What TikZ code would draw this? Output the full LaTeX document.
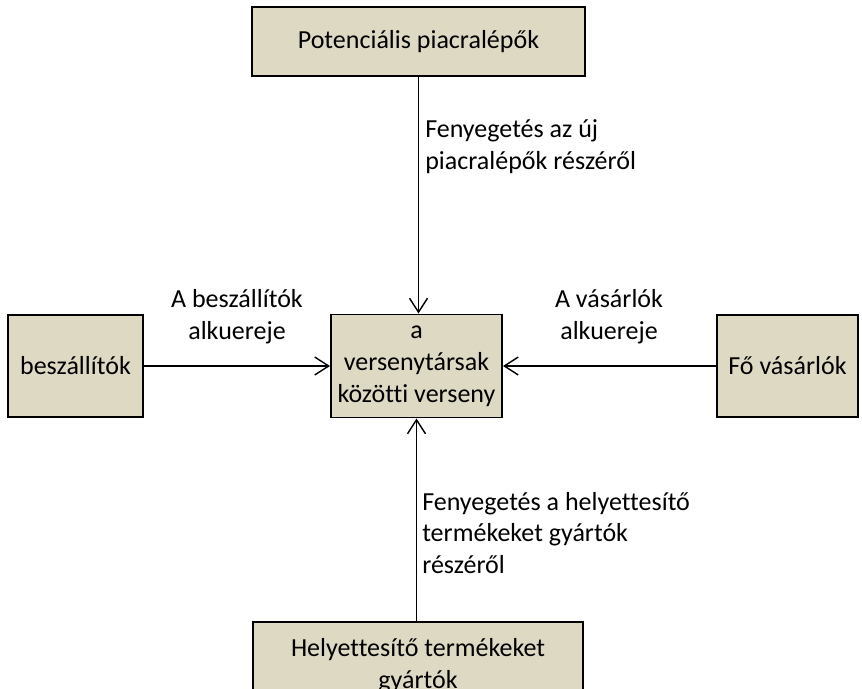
\documentclass[tikz,border=0pt]{standalone}
\usepackage{fontspec}
\setmainfont{Carlito}[Ligatures=NoCommon]
\usetikzlibrary{arrows.meta}
\definecolor{boxtan}{HTML}{DDD9C3}

\begin{document}
\begin{tikzpicture}[x=0.025cm,y=-0.025cm,
    font=\fontsize{18.5}{22.6}\selectfont,
    box/.style={draw, fill=boxtan, line width=1.4pt, align=center, inner sep=0pt},
    lbl/.style={inner sep=0pt},
    arr/.style={line width=1pt, -{Straight Barb[length=0.35cm,width=0.45cm,line width=1pt]}}]
  \clip (0,0) rectangle (862,689);

  \node [box, minimum width=8.325cm, minimum height=1.725cm] (entrants) at (418.5,41.5) {Potenciális piacralépők};
  \node [box, minimum width=4.275cm, minimum height=2.575cm] (rivalry) at (416.5,366) {a\\versenytársak\\közötti verseny};
  \node [box, minimum width=3.375cm, minimum height=2.55cm] (suppliers) at (75.5,366) {beszállítók};
  \node [box, minimum width=3.525cm, minimum height=2.55cm] (buyers) at (787.5,366) {Fő vásárlók};
  \node [box, minimum width=8.25cm, minimum height=2.2cm] (substitutes) at (418,666) {Helyettesítő termékeket\\gyártók};

  \draw [arr] (entrants.south) -- (entrants.south |- rivalry.north);
  \draw [arr] (suppliers.east) -- (suppliers.east -| rivalry.west);
  \draw [arr] (buyers.west) -- (buyers.west -| rivalry.east);
  \draw [arr] (substitutes.north -| rivalry.south) -- (rivalry.south);

  \node [lbl, anchor=west, align=left] (threatnew) at (425,146.5) {Fenyegetés az új\\piacralépők részéről};
  \node [lbl, align=center] (supplierpow) at (237,316.5) {A beszállítók\\alkuereje};
  \node [lbl, align=center] (buyerpow) at (609,316.5) {A vásárlók\\alkuereje};
  \node [lbl, anchor=west, align=left] (threatsub) at (422,533) {Fenyegetés a helyettesítő\\termékeket gyártók\\részéről};
\end{tikzpicture}
\end{document}
